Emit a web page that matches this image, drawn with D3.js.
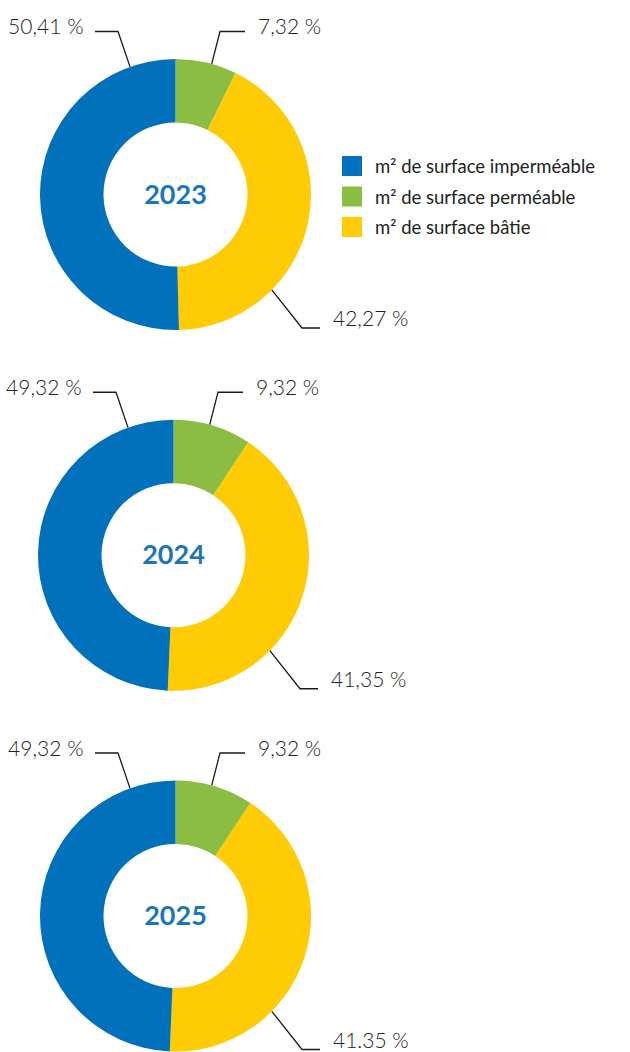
<!DOCTYPE html>
<html>
<head>
    <meta charset="utf-8">
    <script src="https://cdn.jsdelivr.net/npm/d3@7"></script>
    <style>
        body { margin: 0; background: #fff; }
        text { font-family: Lato, "Open Sans", sans-serif; }
    </style>
</head>
<body>
    <div id="my_dataviz"></div>
    <script>
        // data
        var years = ["2023", "2024", "2025"];
        var categories = ["m² de surface imperméable", "m² de surface perméable", "m² de surface bâtie"];
        var impermeable = [50.41, 49.32, 49.32];
        var permeable = [7.32, 9.32, 9.32];
        var batie = [42.27, 41.35, 41.35];
        var impermeableLabels = ["50,41 %", "49,32 %", "49,32 %"];
        var permeableLabels = ["7,32 %", "9,32 %", "9,32 %"];
        var batieLabels = ["42,27 %", "41,35 %", "41.35 %"];
        var colors = ["#0071ba", "#8abd41", "#ffcb05"];

        var width = 630, height = 1052;
        var outerR = 135.5, innerR = 72;
        var centersX = [175.5, 173.5, 175.5];

        var svg = d3.select("#my_dataviz")
            .append("svg")
            .attr("width", width)
            .attr("height", height);

        // vertical position of each donut
        var y = d3.scalePoint()
            .domain(years)
            .range([194.5, 916]);

        var color = d3.scaleOrdinal()
            .domain(categories)
            .range(colors);

        var pie = d3.pie()
            .sort(null)
            .value(function (d) { return d.value; });

        var arc = d3.arc()
            .innerRadius(innerR)
            .outerRadius(outerR);

        // leader line shapes per category (angle on the ring, elbow, end of horizontal)
        var leaders = {};
        leaders[categories[0]] = { angle: -19.6, elbow: [-57.5, -163], end: [-80.5, -163], anchor: "end", tx: -92, dy: 2.5 };
        leaders[categories[1]] = { angle: 15.5, elbow: [44.5, -163], end: [69.5, -163], anchor: "start", tx: 82.5, dy: 2.5 };
        leaders[categories[2]] = { angle: 134.7, elbow: [126.5, 133.5], end: [144.5, 133.5], anchor: "start", tx: 157.5, dy: -2 };

        years.forEach(function (yr, i) {
            // drawing order: perméable from the top, then bâtie, then imperméable
            var rows = [
                { cat: categories[1], value: permeable[i], label: permeableLabels[i] },
                { cat: categories[2], value: batie[i], label: batieLabels[i] },
                { cat: categories[0], value: impermeable[i], label: impermeableLabels[i] }
            ];

            var g = svg.append("g")
                .attr("transform", "translate(" + centersX[i] + "," + y(yr) + ")");

            g.selectAll("path.slice")
                .data(pie(rows))
                .enter()
                .append("path")
                .attr("class", "slice")
                .attr("d", arc)
                .attr("fill", function (d) { return color(d.data.cat); });

            // leader lines + value labels
            rows.forEach(function (r) {
                var L = leaders[r.cat];
                var a = L.angle * Math.PI / 180;
                var p0 = [outerR * Math.sin(a), -outerR * Math.cos(a)];
                g.append("path")
                    .attr("fill", "none")
                    .attr("stroke", "#1a1a1a")
                    .attr("stroke-width", 1.3)
                    .attr("d", d3.line()([p0, L.elbow, L.end]));
                g.append("text")
                    .attr("x", L.tx)
                    .attr("y", L.end[1] + L.dy)
                    .attr("text-anchor", L.anchor)
                    .attr("font-size", 21)
                    .attr("font-weight", 300)
                    .attr("fill", "#222")
                    .text(r.label);
            });

            g.append("text")
                .attr("text-anchor", "middle")
                .attr("y", 9)
                .attr("font-size", 27)
                .attr("font-weight", 700)
                .attr("fill", "#1a75bb")
                .text(yr);
        });

        // legend
        var legend = svg.append("g")
            .attr("transform", "translate(342,156)");

        var items = legend.selectAll("g")
            .data(categories)
            .enter()
            .append("g")
            .attr("transform", function (d, i) { return "translate(0," + (i * 30.5) + ")"; });

        items.append("rect")
            .attr("width", 20)
            .attr("height", 20)
            .attr("fill", function (d) { return color(d); });

        items.append("text")
            .attr("x", 33)
            .attr("y", 17)
            .attr("font-size", 18.5)
            .attr("fill", "#222")
            .text(function (d) { return d; });
    </script>
</body>
</html>
